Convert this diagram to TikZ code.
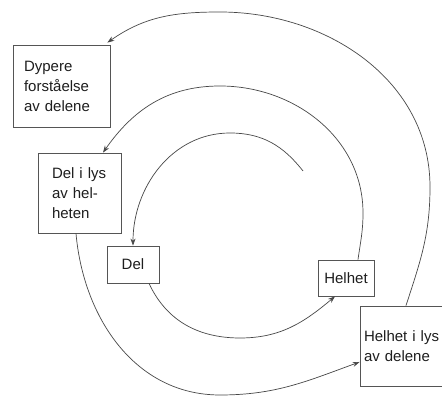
\documentclass[tikz,border=0pt]{standalone}
\usepackage{fontspec}
\setmainfont{Liberation Sans}
\usetikzlibrary{arrows.meta}
\definecolor{linegray}{HTML}{474747}
\definecolor{boxgray}{HTML}{555555}
\definecolor{textdark}{HTML}{1E1E1E}
\begin{document}
\begin{tikzpicture}[x=1pt,y=1pt,
  box/.style={draw=boxgray, line width=0.8pt, text=textdark, inner ysep=0pt,
    font=\fontsize{15}{20}\selectfont, align=left},
  conn/.style={draw=linegray, line width=0.7pt, -{Stealth[length=7pt,width=5pt]}}]
\useasboundingbox (0,0) rectangle (442,398);
\fill[white] (0,0) rectangle (442,398);
% boxes
\node[box, minimum width=97pt, minimum height=82pt, text width=75pt, inner xsep=11pt] (dyp) at (61.5,312) {Dypere\\forståelse\\av delene};
\node[box, minimum width=83pt, minimum height=80pt, text width=55pt, inner xsep=14pt] (dil) at (79.5,205) {Del i lys\\av hel-\\heten};
\node[box, minimum width=52pt, minimum height=37pt, align=center, inner xsep=0pt] (del) at (133,133.5) {Del};
\node[box, minimum width=56pt, minimum height=36pt, align=center, inner xsep=0pt] (hel) at (346,120) {Helhet};
\node[box, minimum width=88pt, minimum height=80pt, text width=80pt, inner xsep=4pt] (hil) at (404,52) {Helhet i lys\\av delene};
% waypoints
\coordinate (s1) at (303,227);
\coordinate (a1) at (230,265);
\coordinate (b2) at (240,60);
\coordinate (r3) at (363,185);
\coordinate (t3) at (220,312);
\coordinate (b4) at (220,3);
\coordinate (r5) at (430,211);
\coordinate (t5) at (220,386);
% connectors
\draw[conn] (s1) to[out=128,in=0] (a1) to[out=180,in=90] (del.north);
\draw[conn] ([xshift=16pt]del.south) to[out=-65,in=180] (b2) to[out=0,in=220] ([xshift=-11pt]hel.south);
\draw[conn] ([xshift=12pt]hel.north) to[out=82,in=-90] (r3) to[out=90,in=0] (t3) to[out=180,in=55] ([xshift=23.5pt]dil.north);
\draw[conn] ([xshift=-3.5pt]dil.south) to[out=-85,in=180] (b4) to[out=0,in=200] (hil.west |- 0,36);
\draw[conn] ([xshift=2pt]hil.north) to[out=72,in=-90] (r5) to[out=90,in=0] (t5) to[out=180,in=35] ([xshift=-3pt,yshift=2pt]dyp.north east);
\end{tikzpicture}
\end{document}
